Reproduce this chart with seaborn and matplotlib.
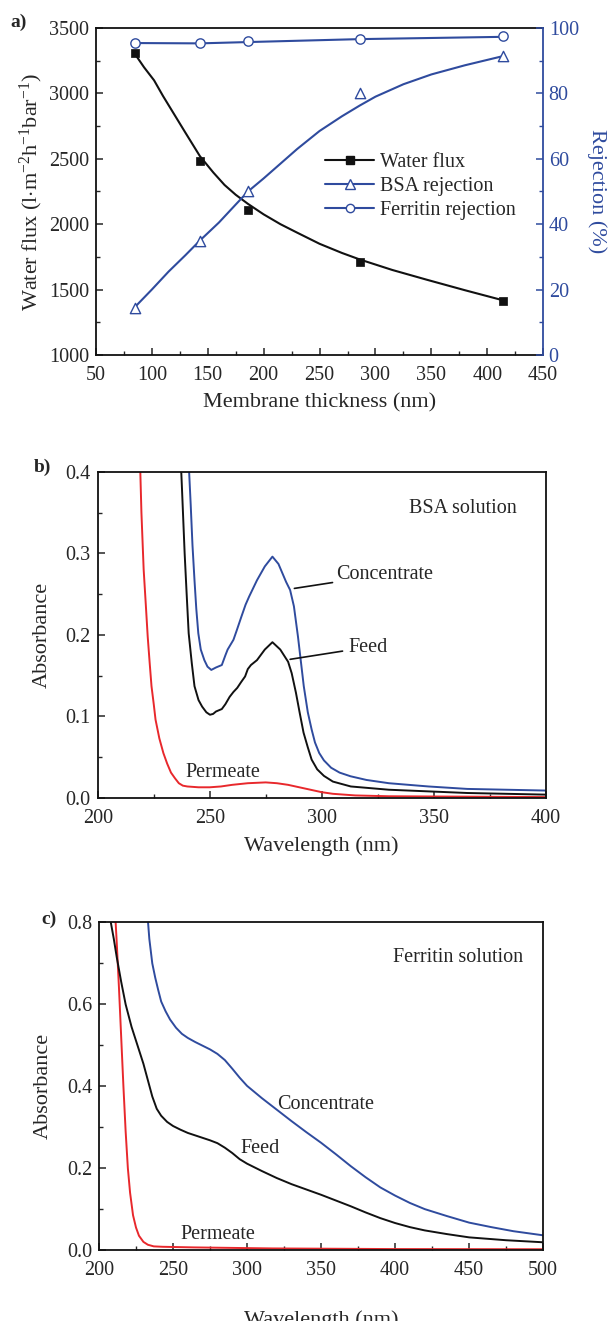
"""
Membrane thickness vs. flux / rejection, and UV-vis spectra of feed,
concentrate and permeate for BSA and ferritin solutions.
"""

import numpy as np
import pandas as pd
import matplotlib
matplotlib.use('Agg')
import matplotlib.pyplot as plt
from matplotlib.lines import Line2D
from matplotlib.ticker import MultipleLocator
import seaborn as sns

# ---------------- panel a: measured points ----------------
thickness = [85, 143, 186, 286, 414]
water_flux = [3310, 2480, 2110, 1710, 1415]
bsa_rej = [14.5, 35, 50, 80, 91.5]
ferritin_rej = [95.5, 95.5, 96, 96.5, 97.5]

# smoothed curves as drawn in the figure
flux_curve_x = [85, 93, 102, 110, 120, 130, 143, 155, 165, 175, 186, 200, 215,
                230, 250, 270, 286, 315, 346, 380, 414]
flux_curve_y = [3300, 3200, 3100, 2980, 2840, 2700, 2520, 2395, 2300, 2225, 2155,
                2075, 2000, 1935, 1850, 1780, 1730, 1650, 1575, 1495, 1418]
bsa_curve_x = [85, 100, 115, 130, 143, 160, 175, 186, 200, 215, 230, 250, 270,
               286, 300, 325, 350, 380, 414]
bsa_curve_y = [14.7, 20, 25.5, 30.5, 35, 40.5, 46, 50, 54, 58.5, 63, 68.5, 73,
               76.3, 79, 82.8, 85.8, 88.6, 91.4]
fer_curve_x = [85, 143, 186, 286, 414]
fer_curve_y = [95.4, 95.3, 95.7, 96.6, 97.3]

# ---------------- panel b: BSA solution spectra ----------------
bsa_conc_wl = [240, 240.8, 241.5, 242.3, 243.2, 244.0, 244.9, 246, 247.6, 249,
               250.7, 252.8, 255.4, 257, 258.0, 260.6, 262, 264.1, 266, 267.6,
               271.1, 274.6, 278.0, 280.7, 284.1, 285.9, 287.6, 289.4, 292, 293.8,
               295.5, 297, 298.9, 301, 304.2, 308, 312.9, 320, 330, 347.7, 365, 400]
bsa_conc_abs = [0.45, 0.40, 0.36, 0.31, 0.267, 0.232, 0.202, 0.182, 0.169, 0.161,
                0.157, 0.160, 0.163, 0.175, 0.182, 0.194, 0.205, 0.222, 0.237, 0.247,
                0.267, 0.284, 0.296, 0.287, 0.265, 0.255, 0.235, 0.198, 0.137, 0.105,
                0.084, 0.068, 0.055, 0.046, 0.037, 0.031, 0.0265, 0.022, 0.018, 0.014,
                0.011, 0.009]
bsa_feed_wl = [236.5, 237.6, 238.8, 239.7, 240.6, 242, 243.2, 245, 246.6, 248.5,
               250.1, 251.5, 252.8, 255.4, 257, 258.9, 260.6, 262.3, 264, 265.8,
               267, 268.4, 271.1, 274.6, 278.0, 281.5, 285.0, 286.6, 288.5, 290.2,
               291.9, 293.8, 295.5, 298, 301, 305, 313, 330, 365, 400]
bsa_feed_abs = [0.45, 0.38, 0.30, 0.25, 0.202, 0.165, 0.137, 0.12, 0.112, 0.105,
                0.102, 0.103, 0.106, 0.109, 0.115, 0.124, 0.13, 0.135, 0.142, 0.149,
                0.158, 0.163, 0.169, 0.182, 0.191, 0.182, 0.167, 0.153, 0.129, 0.104,
                0.080, 0.062, 0.047, 0.035, 0.027, 0.020, 0.014, 0.010, 0.006, 0.004]
bsa_perm_wl = [218.5, 219.5, 220.5, 221.5, 222.3, 223.2, 224, 225, 225.8, 227.5,
               229.3, 231, 232.7, 234.5, 236.2, 238, 240, 245, 250, 255, 260, 267,
               275, 280, 285, 290, 295, 300, 305, 315, 330, 400]
bsa_perm_abs = [0.45, 0.35, 0.28, 0.235, 0.198, 0.165, 0.137, 0.115, 0.096, 0.073,
                0.055, 0.042, 0.031, 0.024, 0.018, 0.015, 0.014, 0.013, 0.013, 0.014,
                0.016, 0.018, 0.019, 0.018, 0.016, 0.013, 0.010, 0.007, 0.005, 0.003,
                0.002, 0.001]

# ---------------- panel c: ferritin solution spectra ----------------
fer_conc_wl = [232.5, 234, 236, 238, 240, 242, 245, 248, 252, 256, 260, 265, 270,
               275, 280, 285, 290, 295, 300, 310, 320, 330, 340, 350, 360, 370, 380,
               390, 400, 410, 420, 435, 450, 465, 480, 500]
fer_conc_abs = [0.83, 0.76, 0.70, 0.665, 0.635, 0.607, 0.583, 0.563, 0.543, 0.528,
                0.518, 0.508, 0.499, 0.49, 0.479, 0.464, 0.443, 0.421, 0.401, 0.371,
                0.343, 0.315, 0.288, 0.262, 0.234, 0.205, 0.178, 0.153, 0.133, 0.115,
                0.100, 0.083, 0.067, 0.056, 0.046, 0.036]
fer_feed_wl = [208, 210, 212, 215, 218, 222, 226, 230, 233, 236, 239, 242, 246, 250,
               255, 260, 265, 270, 275, 280, 285, 290, 295, 300, 310, 320, 330, 340,
               350, 360, 370, 380, 390, 400, 410, 420, 435, 450, 475, 500]
fer_feed_abs = [0.80, 0.76, 0.715, 0.655, 0.60, 0.545, 0.50, 0.455, 0.415, 0.375,
                0.345, 0.328, 0.313, 0.303, 0.294, 0.286, 0.28, 0.274, 0.268, 0.261,
                0.25, 0.237, 0.222, 0.211, 0.193, 0.176, 0.161, 0.148, 0.135, 0.121,
                0.107, 0.092, 0.078, 0.066, 0.056, 0.048, 0.039, 0.031, 0.024, 0.019]
fer_perm_wl = [210.5, 212, 213.5, 215, 216.5, 218, 219.5, 221, 223, 225, 227, 230,
               233, 237, 243, 264, 317, 396, 500]
fer_perm_abs = [0.85, 0.75, 0.64, 0.52, 0.40, 0.29, 0.20, 0.14, 0.085, 0.055, 0.035,
                0.02, 0.013, 0.009, 0.008, 0.0065, 0.004, 0.0025, 0.002]

BLUE = '#2f4b9e'
RED = '#e8282c'
BLACK = '#111111'

sns.set_style('ticks')
plt.rcParams['font.family'] = ['Liberation Serif', 'DejaVu Serif']
plt.rcParams['mathtext.fontset'] = 'custom'
plt.rcParams['mathtext.rm'] = 'Liberation Serif'
plt.rcParams['mathtext.it'] = 'Liberation Serif:italic'
plt.rcParams['axes.linewidth'] = 1.3
plt.rcParams['xtick.direction'] = 'in'
plt.rcParams['ytick.direction'] = 'in'

TICK_FS = 14.5
LABEL_FS = 16
TEXT_FS = 14.5


def style_axis(ax, xmaj, xmin, ymaj, ymin):
    ax.xaxis.set_major_locator(MultipleLocator(xmaj))
    ax.xaxis.set_minor_locator(MultipleLocator(xmin))
    ax.yaxis.set_major_locator(MultipleLocator(ymaj))
    ax.yaxis.set_minor_locator(MultipleLocator(ymin))
    ax.tick_params(which='major', length=5, width=1.1, labelsize=TICK_FS,
                   top=False, right=False)
    ax.tick_params(which='minor', length=3, width=1.0, top=False, right=False)
    ax.tick_params(axis='x', which='major', pad=8)
    ax.tick_params(axis='y', which='major', pad=5)
    for sp in ax.spines.values():
        sp.set_color(BLACK)
        sp.set_linewidth(1.3)


fig = plt.figure(figsize=(6.11, 13.21), dpi=100)

# ================= panel a =================
ax = fig.add_axes([0.157, 0.7313, 0.732, 0.2475])
ax2 = ax.twinx()

sns.lineplot(x=flux_curve_x, y=flux_curve_y, ax=ax, color=BLACK, lw=1.5)
sns.scatterplot(x=thickness, y=water_flux, ax=ax, marker='s', color=BLACK,
                s=40, edgecolor=BLACK, zorder=5)
ax.set_xlim(50, 450)
ax.set_ylim(1000, 3500)
style_axis(ax, 50, 25, 500, 250)
ax.spines['right'].set_visible(False)
ax.set_xlabel('Membrane thickness (nm)', fontsize=LABEL_FS, labelpad=6)
ax.set_ylabel('Water flux (l$\\cdot$m$^{-2}$h$^{-1}$bar$^{-1}$)', fontsize=LABEL_FS,
              labelpad=3)

sns.lineplot(x=bsa_curve_x, y=bsa_curve_y, ax=ax2, color=BLUE, lw=1.5)
sns.lineplot(x=fer_curve_x, y=fer_curve_y, ax=ax2, color=BLUE, lw=1.5)
sns.scatterplot(x=thickness, y=bsa_rej, ax=ax2, marker='^', s=55,
                facecolor='white', edgecolor=BLUE, linewidth=1.0, zorder=5)
sns.scatterplot(x=thickness, y=ferritin_rej, ax=ax2, marker='o', s=45,
                facecolor='white', edgecolor=BLUE, linewidth=1.0, zorder=5)
ax2.set_ylim(0, 100)
ax2.yaxis.set_major_locator(MultipleLocator(20))
ax2.yaxis.set_minor_locator(MultipleLocator(10))
ax2.tick_params(axis='y', which='major', length=5, width=1.1, labelsize=TICK_FS,
                colors=BLUE, pad=4)
ax2.tick_params(axis='y', which='minor', length=3, width=1.0, colors=BLUE)
ax2.spines['right'].set_color(BLUE)
ax2.spines['right'].set_linewidth(1.3)
ax2.spines['left'].set_visible(False)
ax2.spines['top'].set_visible(False)
ax2.spines['bottom'].set_visible(False)
ax2.set_ylabel('Rejection (%)', fontsize=LABEL_FS, color=BLUE, rotation=270,
               labelpad=20)

handles = [
    Line2D([], [], color=BLACK, lw=1.5, marker='s', markersize=6),
    Line2D([], [], color=BLUE, lw=1.5, marker='^', markersize=7,
           markerfacecolor='white', markeredgecolor=BLUE),
    Line2D([], [], color=BLUE, lw=1.5, marker='o', markersize=6,
           markerfacecolor='white', markeredgecolor=BLUE),
]
ax2.legend(handles, ['Water flux', 'BSA rejection', 'Ferritin rejection'],
           loc='upper left', bbox_to_anchor=(0.513, 0.618), frameon=False,
           fontsize=TEXT_FS, handlelength=2.4, handletextpad=0.3,
           labelspacing=0.25, borderaxespad=0, borderpad=0)
fig.text(0.017, 0.983, 'a)', fontsize=14, fontweight='bold', va='center')

# ================= panel b =================
axb = fig.add_axes([0.160, 0.396, 0.733, 0.2468])
sns.lineplot(x=bsa_perm_wl, y=bsa_perm_abs, ax=axb, color=RED, lw=1.4)
sns.lineplot(x=bsa_feed_wl, y=bsa_feed_abs, ax=axb, color=BLACK, lw=1.4)
sns.lineplot(x=bsa_conc_wl, y=bsa_conc_abs, ax=axb, color=BLUE, lw=1.4)
axb.set_xlim(200, 400)
axb.set_ylim(0, 0.4)
style_axis(axb, 50, 25, 0.1, 0.05)
axb.set_xlabel('Wavelength (nm)', fontsize=LABEL_FS, labelpad=6)
axb.set_ylabel('Absorbance', fontsize=LABEL_FS, labelpad=10)
axb.text(363, 0.355, 'BSA solution', fontsize=TEXT_FS, ha='center', va='center')
axb.annotate('Concentrate', xy=(287.8, 0.257), xytext=(306.3, 0.274),
             fontsize=TEXT_FS, ha='left', va='center',
             arrowprops=dict(arrowstyle='-', color=BLACK, lw=1.2, shrinkA=0, shrinkB=0))
axb.annotate('Feed', xy=(285.9, 0.170), xytext=(312, 0.185),
             fontsize=TEXT_FS, ha='left', va='center',
             arrowprops=dict(arrowstyle='-', color=BLACK, lw=1.2, shrinkA=2, shrinkB=0))
axb.text(239, 0.031, 'Permeate', fontsize=TEXT_FS, ha='left', va='center')
fig.text(0.055, 0.646, 'b)', fontsize=14, fontweight='bold', va='center')

# ================= panel c =================
axc = fig.add_axes([0.162, 0.0537, 0.727, 0.248])
sns.lineplot(x=fer_perm_wl, y=fer_perm_abs, ax=axc, color=RED, lw=1.4)
sns.lineplot(x=fer_feed_wl, y=fer_feed_abs, ax=axc, color=BLACK, lw=1.4)
sns.lineplot(x=fer_conc_wl, y=fer_conc_abs, ax=axc, color=BLUE, lw=1.4)
axc.set_xlim(200, 500)
axc.set_ylim(0, 0.8)
style_axis(axc, 50, 25, 0.2, 0.1)
axc.set_xlabel('Wavelength (nm)', fontsize=LABEL_FS, labelpad=22)
axc.set_ylabel('Absorbance', fontsize=LABEL_FS, labelpad=10)
axc.text(442.7, 0.715, 'Ferritin solution', fontsize=TEXT_FS, ha='center', va='center')
axc.text(320, 0.356, 'Concentrate', fontsize=TEXT_FS, ha='left', va='center')
axc.text(295.8, 0.249, 'Feed', fontsize=TEXT_FS, ha='left', va='center')
axc.text(255, 0.039, 'Permeate', fontsize=TEXT_FS, ha='left', va='center')
fig.text(0.067, 0.304, 'c)', fontsize=14, fontweight='bold', va='center')

fig.savefig('out.png', dpi=100)
plt.close(fig)
